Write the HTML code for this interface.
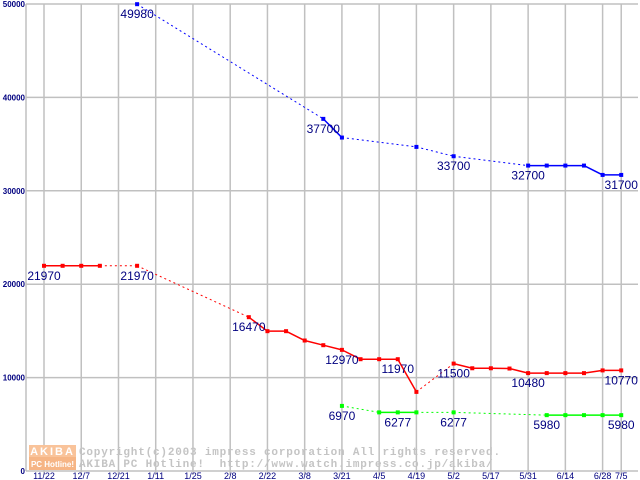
<!DOCTYPE html>
<html><head><meta charset="utf-8"><style>
body{margin:0;background:#fff;}
svg{display:block;font-family:"Liberation Sans",sans-serif;}
</style></head><body>
<svg id="chart" width="640" height="480" xmlns="http://www.w3.org/2000/svg">
<g id="grid"></g>
<g id="wm">
<rect x="29" y="445" width="47" height="12" fill="#f9c39a"/>
<rect x="29" y="457" width="47" height="13" fill="#f6b585"/>
<text x="52.5" y="455" font-size="11" font-weight="bold" fill="#fff" text-anchor="middle" letter-spacing="2">AKIBA</text>
<text x="52.5" y="467" font-size="8" font-weight="bold" fill="#fff" text-anchor="middle">PC Hotline!</text>
<text x="79" y="455" font-size="11" font-weight="bold" fill="#c4c4c4" font-family="Liberation Mono,monospace" letter-spacing="0.8">Copyright(c)2003 impress corporation All rights reserved.</text>
<text x="79" y="467" font-size="11" font-weight="bold" fill="#c4c4c4" font-family="Liberation Mono,monospace" letter-spacing="0.8" xml:space="preserve">AKIBA PC Hotline!  http://www.watch.impress.co.jp/akiba/</text>
</g>
<g id="series"></g>
</svg>
<script>
const xTickIdx=[0,2,4,6,8,10,12,14,16,18,20,22,24,26,28,30,31];
const xTickLabels=["11/22","12/7","12/21","1/11","1/25","2/8","2/22","3/8","3/21","4/5","4/19","5/2","5/17","5/31","6/14","6/28","7/5"];
const yTicks=[0,10000,20000,30000,40000,50000];
const blueIdx=[5,15,16,20,22,26,27,28,29,30,31];
const blueVal=[49980,37700,35700,34700,33700,32700,32700,32700,32700,31700,31700];
const blueLabels=[5,15,22,26,31];
const redIdx=[0,1,2,3,5,11,12,13,14,15,16,17,18,19,20,22,23,24,25,26,27,28,29,30,31];
const redVal=[21970,21970,21970,21970,21970,16470,14970,14970,13970,13470,12970,11970,11970,11970,8470,11500,11000,11000,10970,10480,10480,10480,10480,10770,10770];
const redLabels=[0,5,11,16,19,22,26,31];
const greenIdx=[16,18,19,20,22,27,28,29,30,31];
const greenVal=[6970,6277,6277,6277,6277,5980,5980,5980,5980,5980];
const greenLabels=[16,19,22,27,31];

const NS="http://www.w3.org/2000/svg";
const X=i=>44+i*18.62;
const Y=v=>471-v*467/50000;
function mk(parent,tag,attrs){const e=document.createElementNS(NS,tag);for(const k in attrs)e.setAttribute(k,attrs[k]);parent.appendChild(e);return e;}
const grid=document.getElementById('grid');
yTicks.forEach(v=>{
  const l=mk(grid,'line',{x1:26,x2:638,y1:Y(v),y2:Y(v),stroke:'#c0c0c0','stroke-width':1.5});
  
  
  const t=mk(grid,'text',{x:25,y:Y(v)+3,'font-size':8,'font-weight':'bold',fill:'#000080','text-anchor':'end'});
  t.textContent=String(v);
  
  
});
const ax=mk(grid,'line',{x1:26,x2:26,y1:4,y2:471,stroke:'#c0c0c0','stroke-width':1.5});


xTickIdx.forEach((i,k)=>{
  const l=mk(grid,'line',{x1:X(i),x2:X(i),y1:4,y2:475,stroke:'#c0c0c0','stroke-width':1.5});
  
  
  const t=mk(grid,'text',{x:X(i),y:479,'font-size':9,fill:'#000080','text-anchor':'middle'});
  t.textContent=xTickLabels[k];
  
  
});
const sg=document.getElementById('series');
function drawSeries(name,idx,val,labels,color){
  const g=mk(sg,'g',{});
  
  
  for(let k=1;k<idx.length;k++){
    const gap=idx[k]-idx[k-1]>1;
    const a={x1:X(idx[k-1]),y1:Y(val[k-1]),x2:X(idx[k]),y2:Y(val[k]),stroke:color,'stroke-width':gap?1:1.5};
    if(gap)a['stroke-dasharray']='2,3';
    const l=mk(g,'line',a);
    
    
  }
  idx.forEach((i,k)=>{
    const r=mk(g,'rect',{x:X(i)-2,y:Y(val[k])-2,width:4,height:4,fill:color});
    
    
    if(labels.includes(i)){
      const t=mk(g,'text',{x:X(i),y:Y(val[k])+14,'font-size':12,fill:'#000080','text-anchor':'middle'});
      t.textContent=String(val[k]);
      
      
    }
  });
}
drawSeries('blue',blueIdx,blueVal,blueLabels,'#0000ff');
drawSeries('red',redIdx,redVal,redLabels,'#ff0000');
drawSeries('green',greenIdx,greenVal,greenLabels,'#00ff00');
</script>
</body></html>
